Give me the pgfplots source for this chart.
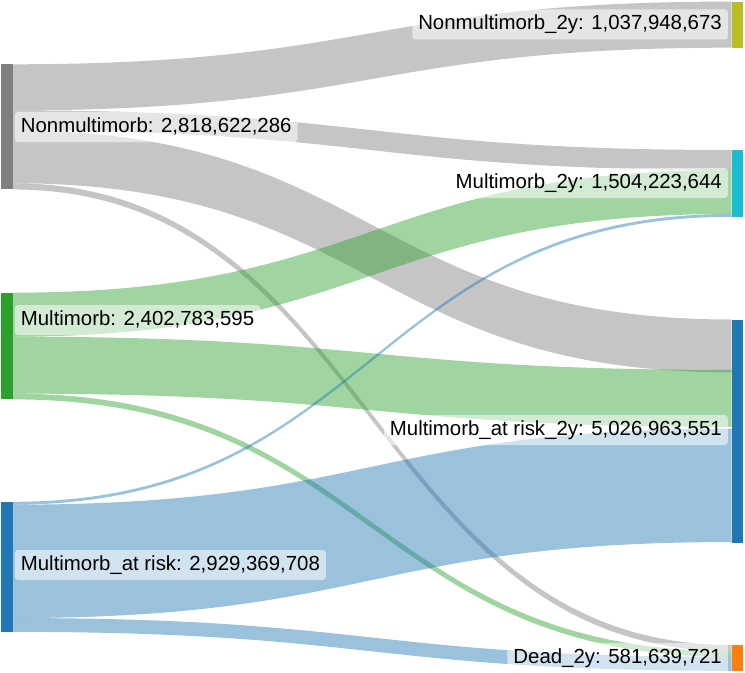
\documentclass[border=0pt]{standalone}
\usepackage{pgfplots}
\usepackage{pgfplotstable}
\pgfplotsset{compat=1.18}
\usepackage{fontspec}
\setmainfont{Liberation Sans}

\definecolor{cgray}{HTML}{7F7F7F}
\definecolor{cgreen}{HTML}{2CA02C}
\definecolor{cblue}{HTML}{1F77B4}
\definecolor{colive}{HTML}{BCBD22}
\definecolor{ccyan}{HTML}{17BECF}
\definecolor{corange}{HTML}{FF7F0E}

\tikzset{lbl/.style={fill=white, fill opacity=0.55, text opacity=1, rounded corners=3bp,
    inner xsep=6bp, inner ysep=5.5bp, text height=15bp, text depth=4bp,
    font=\fontsize{20.4bp}{24bp}\selectfont}}

% flows: value (1e9), top of band at source, top of band at target (px), colour
\pgfplotstableread{
v       s       t       c
1.0379  64.3    1.6     cgray
0.45    110.38  150     cgray
1.1907  130.36  319.5   cgray
0.14    183.23  645     cgray
0.99    292.7   169.98  cgreen
1.2828  336.66  369.93  cgreen
0.13    393.61  651.22  cgreen
0.065   501.8   213.94  cblue
2.5528  504.69  428.7   cblue
0.3116  618.03  656.99  cblue
}\flows

\begin{document}
\begin{tikzpicture}
\begin{axis}[hide axis, x=1bp, y=1bp, y dir=reverse,
  xmin=0, xmax=745, ymin=0, ymax=673, clip=false]
\addplot[draw=none, forget plot] coordinates {(0,0) (745,673)};

\pgfplotsinvokeforeach{0,...,9}{%
  \pgfplotstablegetelem{#1}{v}\of\flows\pgfmathsetmacro\fh{\pgfplotsretval*44.4}%
  \pgfplotstablegetelem{#1}{s}\of\flows\let\fs\pgfplotsretval
  \pgfplotstablegetelem{#1}{t}\of\flows\let\ft\pgfplotsretval
  \pgfplotstablegetelem{#1}{c}\of\flows\let\fc\pgfplotsretval
  \pgfmathsetmacro\fsb{\fs+\fh}\pgfmathsetmacro\ftb{\ft+\fh}%
  \edef\band{\noexpand\fill[\fc, fill opacity=0.45] (12.5,\fs) .. controls (372,\fs) and (372,\ft) .. (731.5,\ft)
    -- (731.5,\ftb) .. controls (372,\ftb) and (372,\fsb) .. (12.5,\fsb) -- cycle;}%
  \band
}

% nodes
\addplot[fill=cgray, draw=none] coordinates {(1,64.3) (12.5,64.3) (12.5,189.4) (1,189.4)} -- cycle;
\addplot[fill=cgreen, draw=none] coordinates {(1,292.7) (12.5,292.7) (12.5,399.4) (1,399.4)} -- cycle;
\addplot[fill=cblue, draw=none] coordinates {(1,501.8) (12.5,501.8) (12.5,631.9) (1,631.9)} -- cycle;
\addplot[fill=colive, draw=none] coordinates {(731.5,1.6) (743,1.6) (743,47.7) (731.5,47.7)} -- cycle;
\addplot[fill=ccyan, draw=none] coordinates {(731.5,150) (743,150) (743,216.8) (731.5,216.8)} -- cycle;
\addplot[fill=cblue, draw=none] coordinates {(731.5,319.5) (743,319.5) (743,542.7) (731.5,542.7)} -- cycle;
\addplot[fill=corange, draw=none] coordinates {(731.5,645) (743,645) (743,670.8) (731.5,670.8)} -- cycle;

% labels
\node[lbl, anchor=west] at (14.7,127) {Nonmultimorb: 2,818,622,286};
\node[lbl, anchor=west] at (14.7,320) {Multimorb: 2,402,783,595};
\node[lbl, anchor=west] at (14.7,565) {Multimorb\_at risk: 2,929,369,708};
\node[lbl, anchor=east] at (728,24.5) {Nonmultimorb\_2y: 1,037,948,673};
\node[lbl, anchor=east] at (728,183) {Multimorb\_2y: 1,504,223,644};
\node[lbl, anchor=east] at (728,430) {Multimorb\_at risk\_2y: 5,026,963,551};
\node[lbl, anchor=east] at (728,658) {Dead\_2y: 581,639,721};
\end{axis}
\end{tikzpicture}
\end{document}
